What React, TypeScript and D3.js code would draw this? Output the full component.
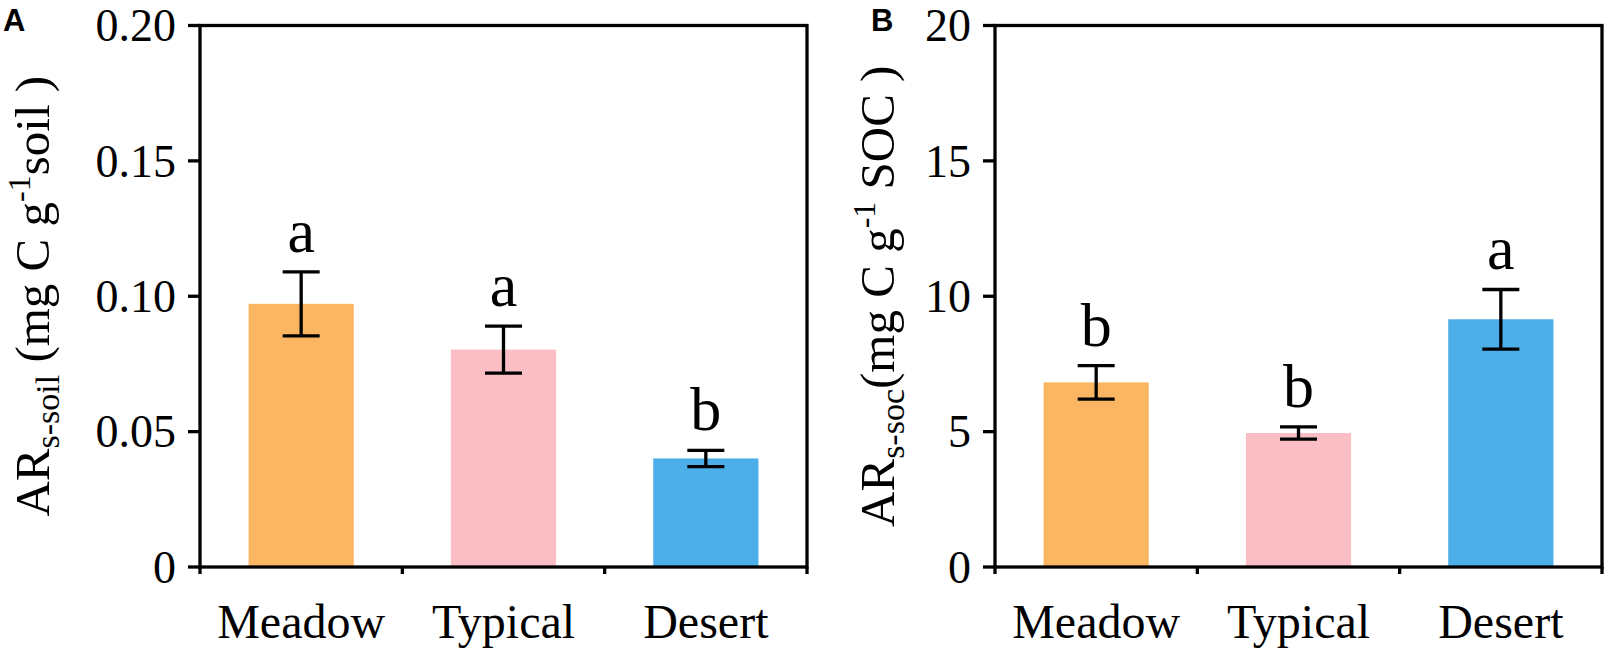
import React, { useEffect, useRef } from "react";
import * as d3 from "d3";

const categories = ["Meadow", "Typical", "Desert"];
const colors = ["#FBB664", "#FBBEC4", "#4CAFEA"];

// panel A: AR s-soil
const soilMeans = [0.0972, 0.0803, 0.0401];
const soilErr = [0.0118, 0.0087, 0.003];
const soilLetters = ["a", "a", "b"];
const soilTicks = [0, 0.05, 0.1, 0.15, 0.2];
const soilTickLabels = ["0", "0.05", "0.10", "0.15", "0.20"];

// panel B: AR s-soc
const socMeans = [6.82, 4.95, 9.15];
const socErr = [0.62, 0.225, 1.1];
const socLetters = ["b", "b", "a"];
const socTicks = [0, 5, 10, 15, 20];
const socTickLabels = ["0", "5", "10", "15", "20"];

const SERIF = "'Liberation Serif', 'Times New Roman', serif";
const SANS = "'Liberation Sans', Arial, sans-serif";

interface PanelDef {
  left: number;
  right: number;
  max: number;
  means: number[];
  errs: number[];
  letters: string[];
  ticks: number[];
  tickLabels: string[];
  tag: string;
  tagX: number;
  labelX: number;
  label: "soil" | "soc";
}

const TOP = 25.5;
const BOTTOM = 567;

const panels: PanelDef[] = [
  {
    left: 200, right: 807, max: 0.2, means: soilMeans, errs: soilErr, letters: soilLetters,
    ticks: soilTicks, tickLabels: soilTickLabels, tag: "A", tagX: 3, labelX: 49, label: "soil",
  },
  {
    left: 995, right: 1602, max: 20, means: socMeans, errs: socErr, letters: socLetters,
    ticks: socTicks, tickLabels: socTickLabels, tag: "B", tagX: 871, labelX: 894, label: "soc",
  },
];

export default function App() {
  const ref = useRef<SVGSVGElement>(null);

  useEffect(() => {
    const svg = d3.select(ref.current);
    svg.selectAll("*").remove();

    panels.forEach((p) => {
      const g = svg.append("g");
      const x = d3.scaleBand<string>().domain(categories).range([p.left, p.right]).padding(0);
      const y = d3.scaleLinear().domain([0, p.max]).range([BOTTOM, TOP]);
      const bw = x.bandwidth() * 0.52;

      // bars
      g.selectAll("rect.bar")
        .data(p.means)
        .enter()
        .append("rect")
        .attr("x", (d, i) => x(categories[i])! + (x.bandwidth() - bw) / 2)
        .attr("y", (d) => y(d))
        .attr("width", bw)
        .attr("height", (d) => y(0) - y(d))
        .attr("fill", (d, i) => colors[i]);

      // error bars + letters
      p.means.forEach((m, i) => {
        const cx = x(categories[i])! + x.bandwidth() / 2;
        const y1 = y(m + p.errs[i]);
        const y0 = y(m - p.errs[i]);
        const eg = g.append("g").attr("stroke", "#000").attr("stroke-width", 3.3);
        eg.append("line").attr("x1", cx).attr("x2", cx).attr("y1", y1).attr("y2", y0);
        eg.append("line").attr("x1", cx - 18.5).attr("x2", cx + 18.5).attr("y1", y1).attr("y2", y1);
        eg.append("line").attr("x1", cx - 18.5).attr("x2", cx + 18.5).attr("y1", y0).attr("y2", y0);
        g.append("text")
          .attr("x", cx)
          .attr("y", y1 - 20)
          .attr("text-anchor", "middle")
          .attr("font-family", SERIF)
          .attr("font-size", 62)
          .text(p.letters[i]);
      });

      // frame
      g.append("rect")
        .attr("x", p.left)
        .attr("y", TOP)
        .attr("width", p.right - p.left)
        .attr("height", BOTTOM - TOP)
        .attr("fill", "none")
        .attr("stroke", "#000")
        .attr("stroke-width", 3.3);

      // y ticks
      p.ticks.forEach((t, i) => {
        g.append("line")
          .attr("x1", p.left - 12)
          .attr("x2", p.left)
          .attr("y1", y(t))
          .attr("y2", y(t))
          .attr("stroke", "#000")
          .attr("stroke-width", 3.3);
        g.append("text")
          .attr("x", p.left - 24)
          .attr("y", y(t))
          .attr("dy", "0.34em")
          .attr("text-anchor", "end")
          .attr("font-family", SERIF)
          .attr("font-size", 46)
          .text(p.tickLabels[i]);
      });

      // x ticks at band edges
      const edges = categories.map((c) => x(c)!).concat([p.right]);
      edges.forEach((e) => {
        g.append("line")
          .attr("x1", e)
          .attr("x2", e)
          .attr("y1", BOTTOM)
          .attr("y2", BOTTOM + 7)
          .attr("stroke", "#000")
          .attr("stroke-width", 3.3);
      });

      categories.forEach((c) => {
        g.append("text")
          .attr("x", x(c)! + x.bandwidth() / 2)
          .attr("y", 638)
          .attr("text-anchor", "middle")
          .attr("font-family", SERIF)
          .attr("font-size", 48)
          .text(c);
      });

      // panel tag
      g.append("text")
        .attr("x", p.tagX)
        .attr("y", 31)
        .attr("font-family", SANS)
        .attr("font-weight", "bold")
        .attr("font-size", 31)
        .text(p.tag);

      // y label
      const cy = (TOP + BOTTOM) / 2;
      const lab = g.append("text")
        .attr("transform", `translate(${p.labelX},${cy}) rotate(-90)`)
        .attr("text-anchor", "middle")
        .attr("font-family", SERIF)
        .attr("font-size", 49);
      lab.append("tspan").text("AR");
      if (p.label === "soil") {
        lab.append("tspan").attr("font-size", 34).attr("dy", 10).text("s-soil");
        lab.append("tspan").attr("dy", -10).text(" (mg C g");
        lab.append("tspan").attr("font-size", 32).attr("dy", -19).text("-1");
        lab.append("tspan").attr("dy", 19).text("soil )");
      } else {
        lab.append("tspan").attr("font-size", 34).attr("dy", 10).text("s-soc");
        lab.append("tspan").attr("dy", -10).text("(mg C g");
        lab.append("tspan").attr("font-size", 32).attr("dy", -19).text("-1");
        lab.append("tspan").attr("dy", 19).text(" SOC )");
      }
    });
  }, []);

  return (
    <svg
      ref={ref}
      width={1609}
      height={656}
      style={{ position: "absolute", left: 0, top: 0, background: "#fff" }}
    />
  );
}
